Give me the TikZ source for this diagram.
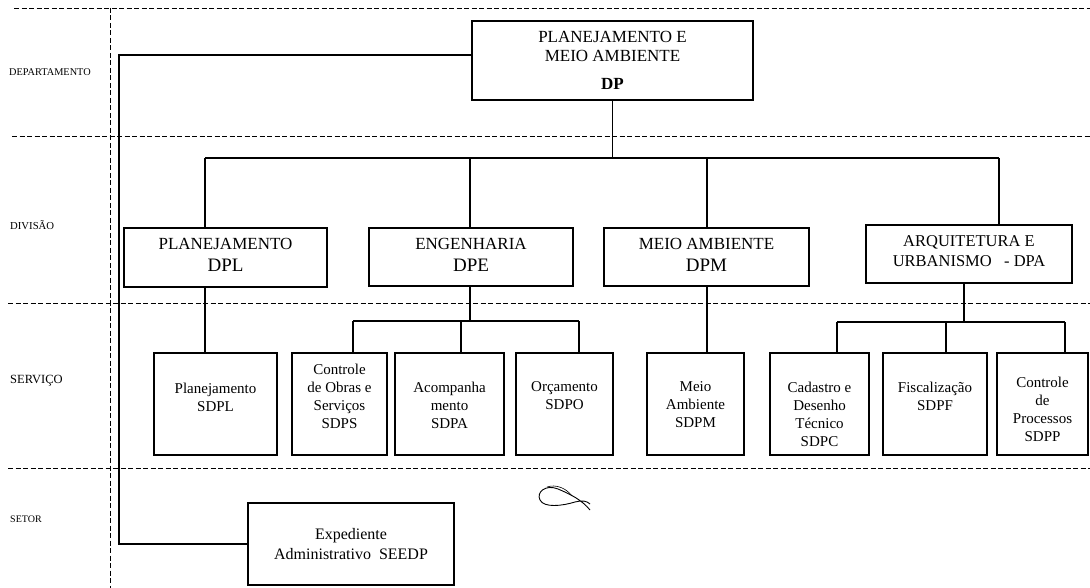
\documentclass[tikz,border=0pt]{standalone}
\usepackage{fontspec}
\setmainfont{Liberation Serif}
\begin{document}
\begin{tikzpicture}[x=1pt,y=-1pt,
  grid/.style={line width=0.9pt, dash pattern=on 5pt off 2.5pt},
  box/.style={draw, line width=1.2pt, inner sep=0pt},
  conn/.style={line width=1.1pt},
  lbl/.style={anchor=west, inner sep=0pt},
  divt/.style={align=center, inner sep=0pt, font=\fontsize{17}{20}\selectfont},
  svc/.style={box, minimum height=102pt},
  svct/.style={align=center, inner sep=0pt, font=\fontsize{15}{18}\selectfont}]
\useasboundingbox (0,0) rectangle (1090,588);
\fill[white] (0,0) rectangle (1090,588);

% grid of levels
\draw[grid] (14,8) -- (1090,8);
\draw[grid] (12,136) -- (1090,136);
\draw[grid] (8,303) -- (1090,303);
\draw[grid] (8,468) -- (1090,468);
\draw[grid] (110,8) -- (110,588);

% level labels
\node[lbl, font=\fontsize{10.3}{12}\selectfont] (ldep) at (9,72) {DEPARTAMENTO};
\node[lbl, font=\fontsize{10.7}{12}\selectfont] (ldiv) at (10,225) {DIVISÃO};
\node[lbl, font=\fontsize{12.5}{14}\selectfont] (lser) at (10,381) {SERVIÇO};
\node[lbl, font=\fontsize{10}{12}\selectfont] (lset) at (10,519) {SETOR};

% department
\node[box, minimum width=281pt, minimum height=79pt] (dp) at (612.5,60.5) {};
\node[align=center, inner sep=0pt, font=\fontsize{17}{19}\selectfont] (dpt) at (612.5,60) {PLANEJAMENTO E\\MEIO AMBIENTE\\[9pt]\textbf{DP}};

% divisions
\node[box, minimum width=203pt, minimum height=59pt] (dpl) at (225.5,257.5) {};
\node[divt] (dplt) at (225.5,254.5) {PLANEJAMENTO\\[2pt]{\fontsize{19}{20}\selectfont DPL}};
\node[box, minimum width=204pt, minimum height=58pt] (dpe) at (471,257) {};
\node[divt] (dpet) at (471,254.5) {ENGENHARIA\\[2pt]{\fontsize{19}{20}\selectfont DPE}};
\node[box, minimum width=205pt, minimum height=58pt] (dpm) at (706.5,257) {};
\node[divt] (dpmt) at (706.5,254.5) {MEIO AMBIENTE\\[2pt]{\fontsize{19}{20}\selectfont DPM}};
\node[box, minimum width=206pt, minimum height=58pt] (dpa) at (969,254) {};
\node[divt, font=\fontsize{16.5}{20}\selectfont] (dpat) at (969,251.5) {ARQUITETURA E\\URBANISMO\ \ \ - DPA};

% services
\node[svc, minimum width=123pt] (sdpl) at (215.5,404) {};
\node[svct] (sdplt) at (215.5,397) {Planejamento\\SDPL};
\node[svc, minimum width=95pt] (sdps) at (339.5,404) {};
\node[svct] (sdpst) at (339.5,396) {Controle\\de Obras e\\Serviços\\SDPS};
\node[svc, minimum width=109pt] (sdpa) at (449.5,404) {};
\node[svct] (sdpat) at (449.5,405) {Acompanha\\mento\\SDPA};
\node[svc, minimum width=97pt] (sdpo) at (564.5,404) {};
\node[svct] (sdpot) at (564.5,396) {Orçamento\\SDPO};
\node[svc, minimum width=97pt] (sdpm) at (695.5,404) {};
\node[svct] (sdpmt) at (695.5,405) {Meio\\Ambiente\\SDPM};
\node[svc, minimum width=99pt] (sdpc) at (819.5,404) {};
\node[svct] (sdpct) at (819.5,414) {Cadastro e\\Desenho\\Técnico\\SDPC};
\node[svc, minimum width=104pt] (sdpf) at (935,404) {};
\node[svct] (sdpft) at (935,396) {Fiscalização\\SDPF};
\node[svc, minimum width=91pt] (sdpp) at (1042.5,404) {};
\node[svct] (sdppt) at (1042.5,409) {Controle\\de\\Processos\\SDPP};

% sector
\node[box, minimum width=206pt, minimum height=82pt] (seedp) at (351,544) {};
\node[align=center, inner sep=0pt, font=\fontsize{16}{20}\selectfont] (seedpt) at (351,544) {Expediente\\Administrativo\ \ SEEDP};

% connectors: department to divisions
\coordinate (j1) at (205,158);
\coordinate (j2) at (470,158);
\coordinate (j3) at (707,158);
\coordinate (j4) at (999,158);
\draw[conn] (dp.south) -- (dp.south |- j1);
\draw[conn] (j1) -- (j4);
\draw[conn] (j1) -- (j1 |- dpl.north);
\draw[conn] (j2) -- (j2 |- dpe.north);
\draw[conn] (j3) -- (j3 |- dpm.north);
\draw[conn] (j4) -- (j4 |- dpa.north);

% divisions to services
\coordinate (k1) at (205,0);
\draw[conn] (k1 |- dpl.south) -- (k1 |- sdpl.north);

\coordinate (e0) at (470,321);
\coordinate (e1) at (353,321);
\coordinate (e2) at (461,321);
\coordinate (e3) at (579,321);
\draw[conn] (e0 |- dpe.south) -- (e0);
\draw[conn] (e1) -- (e3);
\draw[conn] (e1) -- (e1 |- sdps.north);
\draw[conn] (e2) -- (e2 |- sdpa.north);
\draw[conn] (e3) -- (e3 |- sdpo.north);

\coordinate (m0) at (707,0);
\draw[conn] (m0 |- dpm.south) -- (m0 |- sdpm.north);

\coordinate (a0) at (964,322);
\coordinate (a1) at (837,322);
\coordinate (a2) at (946,322);
\coordinate (a3) at (1065,322);
\draw[conn] (a0 |- dpa.south) -- (a0);
\draw[conn] (a1) -- (a3);
\draw[conn] (a1) -- (a1 |- sdpc.north);
\draw[conn] (a2) -- (a2 |- sdpf.north);
\draw[conn] (a3) -- (a3 |- sdpp.north);

% department to sector
\coordinate (lc) at (119,55);
\draw[conn] (dp.west |- lc) -- (lc) |- (seedp.west);

% handwritten mark
\draw[line width=0.9pt] (590,510) .. controls (582,500) and (570,494) .. (558,489)
  .. controls (546,484) and (536,492) .. (540,500)
  .. controls (544,508) and (562,506) .. (575,502)
  .. controls (582,500) and (587,501) .. (590,504);
\draw[line width=0.6pt] (547,487) .. controls (556,484) and (566,488) .. (572,496);
\end{tikzpicture}
\end{document}
